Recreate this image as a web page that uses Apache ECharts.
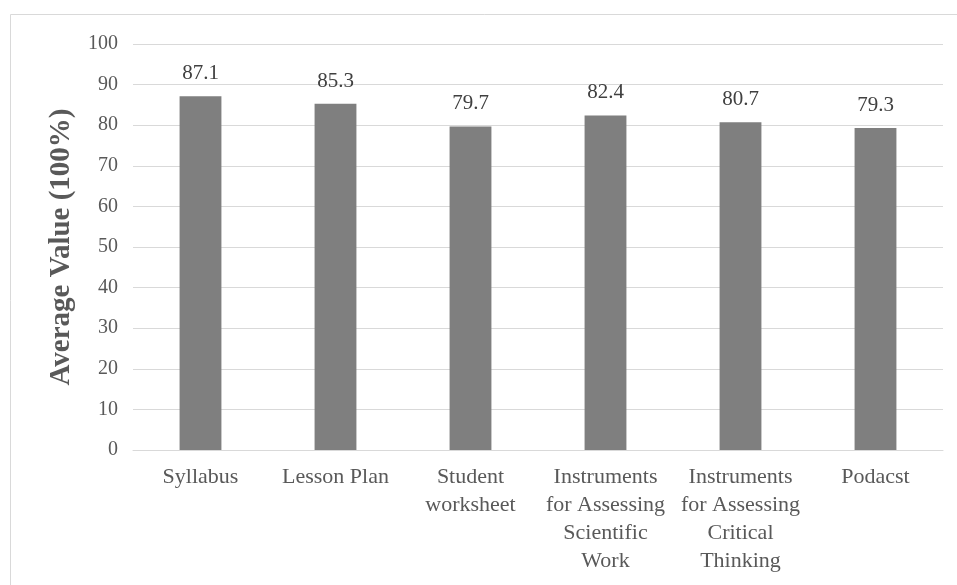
<!DOCTYPE html>
<html><head><meta charset="utf-8">
<script src="https://cdn.jsdelivr.net/npm/echarts@6/dist/echarts.min.js"></script>
<style>html,body{margin:0;padding:0;background:#fff}#c{width:957px;height:585px}</style>
</head><body><div id="c"></div>
<script>
const categories = ['Syllabus', 'Lesson Plan', 'Student\nworksheet', 'Instruments\nfor Assessing\nScientific\nWork', 'Instruments\nfor Assessing\nCritical\nThinking', 'Podacst'];
const values = [87.1, 85.3, 79.7, 82.4, 80.7, 79.3];
const yTicks = {min: 0, max: 100, interval: 10};
const yTitle = 'Average Value (100%)';

const chart = echarts.init(document.getElementById('c'), null, {renderer: 'canvas'});
const font = '"Liberation Serif", "Times New Roman", serif';
chart.setOption({
  animation: false,
  textStyle: {fontFamily: font},
  graphic: [{
    type: 'rect', shape: {x: 10.5, y: 14.5, width: 1000, height: 1000},
    style: {fill: 'none', stroke: '#d9d9d9', lineWidth: 1}, silent: true
  }],
  grid: {left: 133, right: 14, top: 44, bottom: 135, containLabel: false},
  xAxis: {
    type: 'category', data: categories,
    axisLine: {lineStyle: {color: '#d9d9d9'}},
    axisTick: {show: false},
    axisLabel: {color: '#595959', fontSize: 22, fontFamily: font, lineHeight: 28, margin: 13, interval: 0}
  },
  yAxis: {
    type: 'value', min: yTicks.min, max: yTicks.max, interval: yTicks.interval,
    name: yTitle, nameLocation: 'middle', nameGap: 57, nameRotate: 90,
    nameTextStyle: {color: '#595959', fontSize: 29, fontWeight: 'bold', fontFamily: font},
    axisLine: {show: false}, axisTick: {show: false},
    axisLabel: {color: '#595959', fontSize: 20, fontFamily: font, margin: 15},
    splitLine: {lineStyle: {color: '#d9d9d9'}}
  },
  series: [{
    type: 'bar', data: values, barWidth: '31%',
    itemStyle: {color: '#7f7f7f'},
    label: {show: true, position: 'top', distance: 12, color: '#404040', fontSize: 21, fontFamily: font,
      formatter: p => p.value.toFixed(1)}
  }]
});
</script></body></html>
